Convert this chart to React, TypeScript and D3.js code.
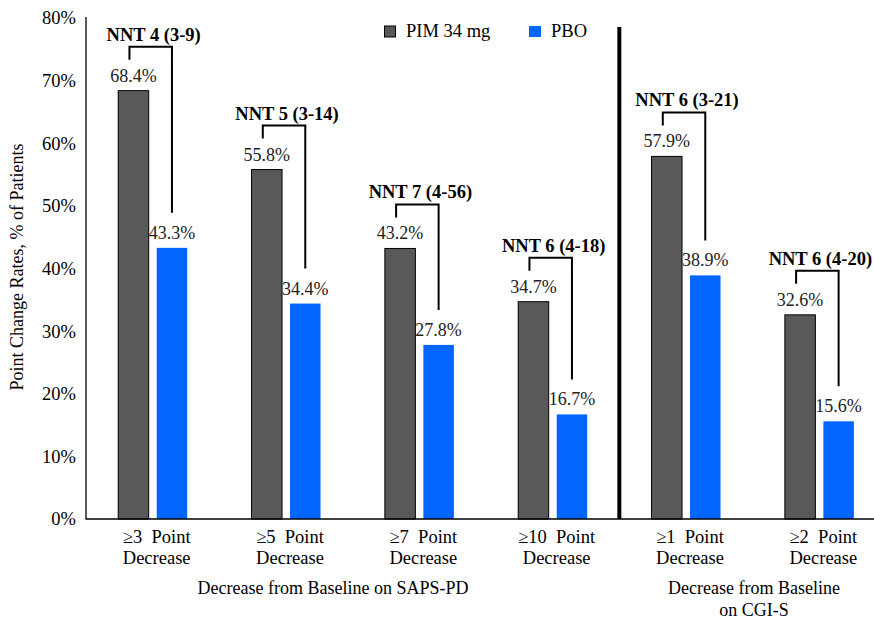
import React from 'react';
import * as d3 from 'd3';

const categories = ['≥3  Point', '≥5  Point', '≥7  Point', '≥10  Point', '≥1  Point', '≥2  Point'];
const pimValues = [68.4, 55.8, 43.2, 34.7, 57.9, 32.6];
const pboValues = [43.3, 34.4, 27.8, 16.7, 38.9, 15.6];
const nntLabels = ['NNT 4 (3-9)', 'NNT 5 (3-14)', 'NNT 7 (4-56)', 'NNT 6 (4-18)', 'NNT 6 (3-21)', 'NNT 6 (4-20)'];
const yTicks = [0, 10, 20, 30, 40, 50, 60, 70, 80];
const seriesNames = ['PIM 34 mg', 'PBO'];
const seriesColors = ['#595959', '#0066FF'];

export default function App() {
  const width = 874;
  const height = 619;
  const font = "'Liberation Serif', 'Times New Roman', Times, 'DejaVu Serif'";

  const x = d3.scaleBand<string>().domain(categories).range([86, 886]).padding(0);
  const inner = d3.scaleBand<string>().domain(seriesNames).range([32.2, 101.2]).paddingInner(0.2078);
  const y = d3.scaleLinear().domain([0, 80]).range([519, 18]);

  const dividerX = ((x(categories[3]) as number) + x.bandwidth() + (x(categories[4]) as number)) / 2;

  return (
    <svg width={width} height={height} style={{ position: 'absolute', left: 0, top: 0, background: '#fff', fontFamily: font }}>
      {/* y ticks */}
      {yTicks.map(t => (
        <text key={t} x={76} y={y(t)} dy="0.35em" textAnchor="end" fontSize={18.5} fill="#000">{t}%</text>
      ))}
      <text transform={`translate(23,267) rotate(-90)`} textAnchor="middle" fontSize={18} fill="#000">
        Point Change Rates, % of Patients
      </text>

      {/* bars */}
      {categories.map((c, i) => {
        const gx = x(c) as number;
        const dx = gx + (inner(seriesNames[0]) as number);
        const bx = gx + (inner(seriesNames[1]) as number);
        const bw = inner.bandwidth();
        const dTop = y(pimValues[i]);
        const bTop = y(pboValues[i]);
        const lx = dx + bw / 2 - 4;
        const rx = bx + bw / 2;
        const hy = dTop - 44;
        return (
          <g key={c}>
            <rect x={dx} y={dTop} width={bw} height={y(0) - dTop} fill={seriesColors[0]} stroke="#000" strokeWidth={1} />
            <rect x={bx} y={bTop} width={bw} height={y(0) - bTop} fill={seriesColors[1]} />
            <text x={dx + bw / 2} y={dTop - 9} textAnchor="middle" fontSize={18} fill="#222">{pimValues[i].toFixed(1)}%</text>
            <text x={bx + bw / 2} y={bTop - 9} textAnchor="middle" fontSize={18} fill="#222">{pboValues[i].toFixed(1)}%</text>
            <path d={`M${lx},${hy + 13}V${hy}H${rx}V${bTop - 35}`} fill="none" stroke="#000" strokeWidth={2} />
            <text x={(lx + rx) / 2 + 3} y={hy - 6} textAnchor="middle" fontSize={18.5} fontWeight="bold" fill="#000">{nntLabels[i]}</text>
            <text x={gx + x.bandwidth() / 2 + 4} y={543} textAnchor="middle" fontSize={18.5} fill="#000" style={{ whiteSpace: 'pre' }}>{c}</text>
            <text x={gx + x.bandwidth() / 2 + 4} y={564} textAnchor="middle" fontSize={18.5} fill="#000">Decrease</text>
          </g>
        );
      })}

      {/* axes */}
      <line x1={86} x2={86} y1={17} y2={519.5} stroke="#000" strokeWidth={1.3} />
      <line x1={86} x2={874} y1={519} y2={519} stroke="#000" strokeWidth={1.5} />
      <line x1={dividerX} x2={dividerX} y1={27} y2={519} stroke="#000" strokeWidth={4} />

      {/* group titles */}
      <text x={333} y={594} textAnchor="middle" fontSize={18} fill="#000">Decrease from Baseline on SAPS-PD</text>
      <text x={754} y={594} textAnchor="middle" fontSize={18} fill="#000">Decrease from Baseline</text>
      <text x={754} y={616} textAnchor="middle" fontSize={18} fill="#000">on CGI-S</text>

      {/* legend */}
      <rect x={384.5} y={26} width={11} height={11} fill={seriesColors[0]} stroke="#000" strokeWidth={1} />
      <text x={406} y={37} fontSize={18.5} fill="#000">{seriesNames[0]}</text>
      <rect x={529} y={26} width={12} height={11} fill={seriesColors[1]} />
      <text x={551} y={37} fontSize={18.5} fill="#000">{seriesNames[1]}</text>
    </svg>
  );
}
